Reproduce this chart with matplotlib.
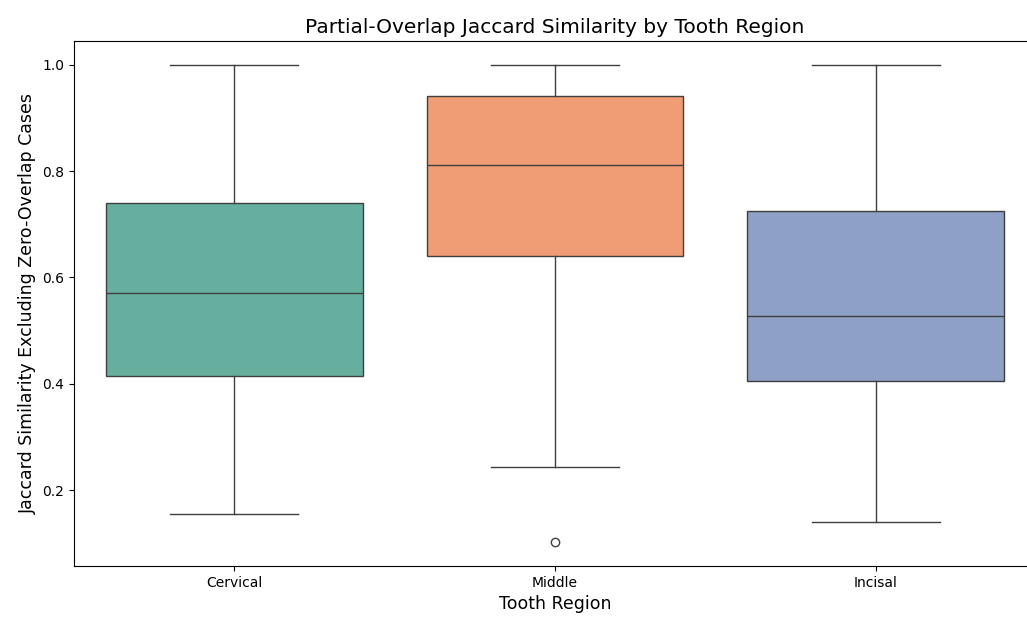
import matplotlib
matplotlib.use("Agg")
import matplotlib.pyplot as plt

# Box statistics per tooth region (whiskers, quartiles, median, fliers)
regions = ["Cervical", "Middle", "Incisal"]
whisker_low = [0.155, 0.243, 0.140]
q1 = [0.415, 0.640, 0.406]
median = [0.570, 0.811, 0.528]
q3 = [0.740, 0.942, 0.726]
whisker_high = [1.0, 1.0, 1.0]
fliers = [[], [0.102], []]

# Set2, slightly muted
palette = ["#66ae9d", "#f09c75", "#8ea0c5"]

stats = []
for i, name in enumerate(regions):
    stats.append(dict(label=name, whislo=whisker_low[i], q1=q1[i], med=median[i],
                      q3=q3[i], whishi=whisker_high[i], fliers=fliers[i]))

fig = plt.figure(figsize=(10.27, 6.19), dpi=100)
ax = fig.add_axes([74 / 1027, 1 - 566 / 619, 962 / 1027, 525 / 619])

line = dict(color="#3f3f3f", linewidth=1.0)
bp = ax.bxp(stats, positions=range(len(regions)), widths=0.8, patch_artist=True,
            boxprops=line, whiskerprops=line, capprops=line, medianprops=line,
            flierprops=dict(marker="o", markersize=6, markerfacecolor="none",
                            markeredgecolor="#3f3f3f", linewidth=0))
for patch, c in zip(bp["boxes"], palette):
    patch.set_facecolor(c)

ax.set_xlim(-0.5, 2.5)
ax.set_ylim(0.057, 1.045)
ax.set_xticks(range(len(regions)))
ax.set_xticklabels(regions)
ax.set_yticks([0.2, 0.4, 0.6, 0.8, 1.0])
ax.set_title("Partial-Overlap Jaccard Similarity by Tooth Region", fontsize=14.5)
ax.set_xlabel("Tooth Region", fontsize=12.5)
ax.set_ylabel("Jaccard Similarity Excluding Zero-Overlap Cases", fontsize=12.5)

fig.savefig("out.png", dpi=100)
